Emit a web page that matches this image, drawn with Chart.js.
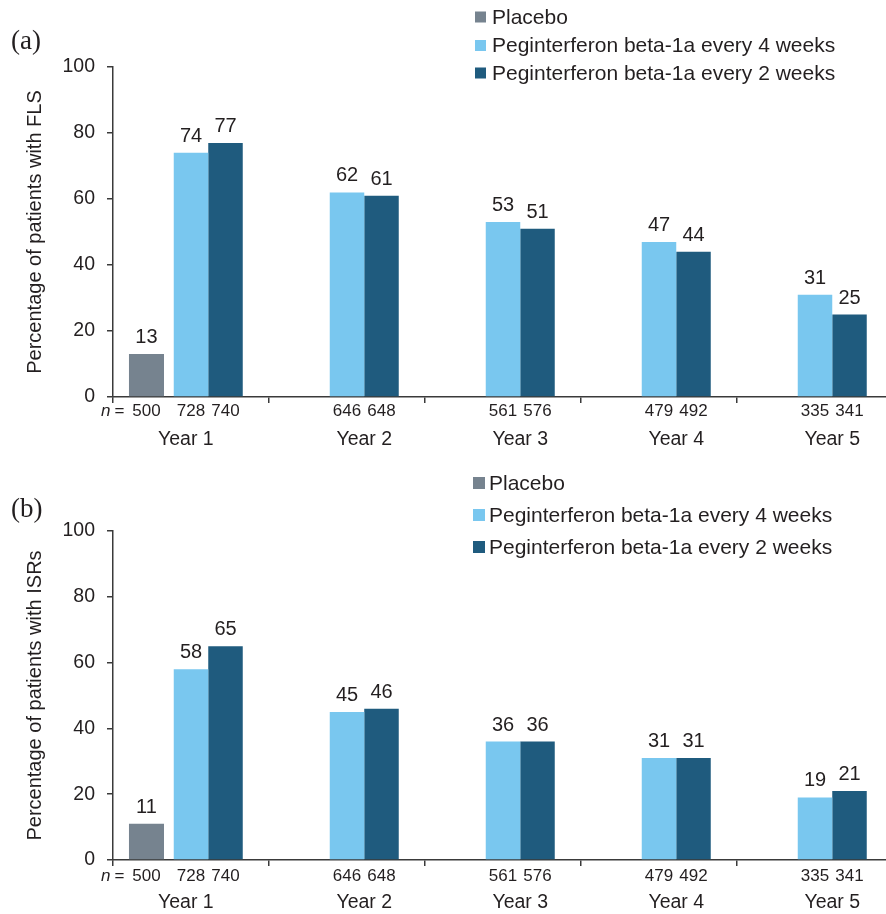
<!DOCTYPE html>
<html><head><meta charset="utf-8">
<script src="https://cdn.jsdelivr.net/npm/chart.js@4.4.0/dist/chart.umd.min.js"></script>
<style>
html,body{margin:0;padding:0;background:#fff;overflow:hidden;width:886px;height:914px;position:relative;}
.panel{position:absolute;left:0;width:900px;height:457px;}
#pa{top:0}
#pb{top:457px}
canvas{display:block}
</style></head><body>
<div class="panel" id="pa"><canvas id="ca" width="900" height="457"></canvas></div>
<div class="panel" id="pb"><canvas id="cb" width="900" height="457"></canvas></div>
<script>
// ---- data ----
const years = ['Year 1', 'Year 2', 'Year 3', 'Year 4', 'Year 5'];
const seriesNames = ['Placebo', 'Peginterferon beta-1a every 4 weeks', 'Peginterferon beta-1a every 2 weeks'];
const flsPlacebo = [13, null, null, null, null];
const flsEvery4w = [74, 62, 53, 47, 31];
const flsEvery2w = [77, 61, 51, 44, 25];
const isrPlacebo = [11, null, null, null, null];
const isrEvery4w = [58, 45, 36, 31, 19];
const isrEvery2w = [65, 46, 36, 31, 21];
const nPlacebo = [500, null, null, null, null];
const nEvery4w = [728, 646, 561, 479, 335];
const nEvery2w = [740, 648, 576, 492, 341];
const yTickValues = [0, 20, 40, 60, 80, 100];
const yTitles = ['Percentage of patients with FLS', 'Percentage of patients with ISRs'];
const panelLetters = ['(a)', '(b)'];

// ---- styles ----
const SANS = "'Liberation Sans', Arial, Helvetica, sans-serif";
const SERIF = "'Liberation Serif', 'Times New Roman', serif";
const TEXT = '#231f20';
const AXIS = '#3a3a3a';
const colors = ['#76838f', '#79c7ef', '#1f5b7e'];

const annotate = {
  id: 'annotate',
  afterDatasetsDraw(chart, args, opts) {
    const ctx = chart.ctx;
    const bottom = chart.chartArea.bottom;
    ctx.save();
    ctx.fillStyle = TEXT;
    const groups = years.map(() => ({ lo: Infinity, hi: -Infinity }));
    chart.data.datasets.forEach((ds, di) => {
      const meta = chart.getDatasetMeta(di);
      meta.data.forEach((bar, i) => {
        const v = ds.data[i];
        if (v == null) return;
        const w = bar.width;
        groups[i].lo = Math.min(groups[i].lo, bar.x - w / 2);
        groups[i].hi = Math.max(groups[i].hi, bar.x + w / 2);
        // value label
        ctx.font = '20px ' + SANS;
        ctx.textAlign = 'center';
        ctx.textBaseline = 'alphabetic';
        ctx.fillText(String(v), bar.x, bar.y - 11);
        // n label
        const n = opts.n[di][i];
        if (n != null) {
          ctx.font = '17px ' + SANS;
          ctx.textBaseline = 'middle';
          ctx.textAlign = 'center';
          const ny = bottom + opts.nOffset;
          ctx.fillText(String(n), bar.x, ny);
          if (di === 0 && i === 0) {
            const wn = ctx.measureText(String(n)).width;
            const x0 = bar.x - wn / 2;
            ctx.textAlign = 'right';
            ctx.fillText('=', x0 - 8, ny);
            const weq = ctx.measureText('=').width;
            ctx.font = 'italic 17px ' + SANS;
            ctx.fillText('n', x0 - 8 - weq - 4, ny);
          }
        }
      });
    });
    // year labels centered under each bar group
    ctx.font = '19.5px ' + SANS;
    ctx.textAlign = 'center';
    ctx.textBaseline = 'middle';
    chart.data.labels.forEach((lab, i) => {
      const g = groups[i];
      ctx.fillText(lab, (g.lo + g.hi) / 2, bottom + opts.yearOffset);
    });
    // legend
    const L = opts.legend;
    chart.data.datasets.forEach((ds, di) => {
      const cy = L.ys[di];
      ctx.fillStyle = ds.backgroundColor;
      ctx.fillRect(L.x, cy - L.size / 2, L.size, L.size);
      ctx.fillStyle = TEXT;
      ctx.font = '21px ' + SANS;
      ctx.textAlign = 'left';
      ctx.textBaseline = 'middle';
      ctx.fillText(ds.label, L.textX, cy + 1);
    });
    // panel letter
    ctx.font = '27px ' + SERIF;
    ctx.textAlign = 'left';
    ctx.textBaseline = 'middle';
    ctx.fillText(opts.letter, 11, opts.letterY);
    ctx.restore();
  }
};

function makeChart(id, series, title, letter, cfg) {
  const datasets = series.map((d, k) => ({
    label: seriesNames[k],
    data: d,
    backgroundColor: colors[k],
    borderWidth: 0,
    categoryPercentage: k === 0 ? 0.856 : 0.6635,
    barPercentage: k === 0 ? 0.787 : 1.0
  }));
  return new Chart(document.getElementById(id), {
    type: 'bar',
    data: { labels: years, datasets },
    plugins: [annotate],
    options: {
      responsive: false,
      animation: false,
      devicePixelRatio: 1,
      layout: { padding: { top: cfg.top, right: 7, bottom: 0, left: 0 } },
      plugins: {
        legend: { display: false },
        tooltip: { enabled: false },
        annotate: {
          n: [nPlacebo, nEvery4w, nEvery2w],
          nOffset: cfg.nOffset,
          yearOffset: 43,
          legend: cfg.legend,
          letter: letter,
          letterY: cfg.letterY
        }
      },
      scales: {
        x: {
          type: 'category',
          offset: true,
          afterFit(s) { s.height = cfg.xHeight; },
          ticks: { display: false },
          grid: { display: true, drawOnChartArea: false, drawTicks: true, tickLength: 6, color: AXIS, lineWidth: 1.5, offset: true },
          border: { display: true, color: AXIS, width: 1.5 }
        },
        y: {
          min: 0, max: 100,
          afterFit(s) { s.width = 113; },
          afterBuildTicks(s) { s.ticks = yTickValues.map(v => ({ value: v })); },
          ticks: { color: TEXT, padding: 12, font: { family: SANS, size: 19.5 } },
          grid: { display: true, drawOnChartArea: false, drawTicks: true, tickLength: 6, color: AXIS, lineWidth: 1.5 },
          border: { display: true, color: AXIS, width: 1.5 },
          title: { display: true, text: title, color: TEXT, font: { family: SANS, size: 20 }, padding: { top: 23, bottom: 0 } }
        }
      }
    }
  });
}

makeChart('ca', [flsPlacebo, flsEvery4w, flsEvery2w], yTitles[0], panelLetters[0], {
  top: 67, xHeight: 60, nOffset: 14,
  legend: { x: 475, size: 11, textX: 492, ys: [17, 45.5, 73] },
  letterY: 42
});
makeChart('cb', [isrPlacebo, isrEvery4w, isrEvery2w], yTitles[1], panelLetters[1], {
  top: 74, xHeight: 54, nOffset: 16,
  legend: { x: 473, size: 12, textX: 489, ys: [26, 58, 90] },
  letterY: 53
});
</script>
</body></html>
